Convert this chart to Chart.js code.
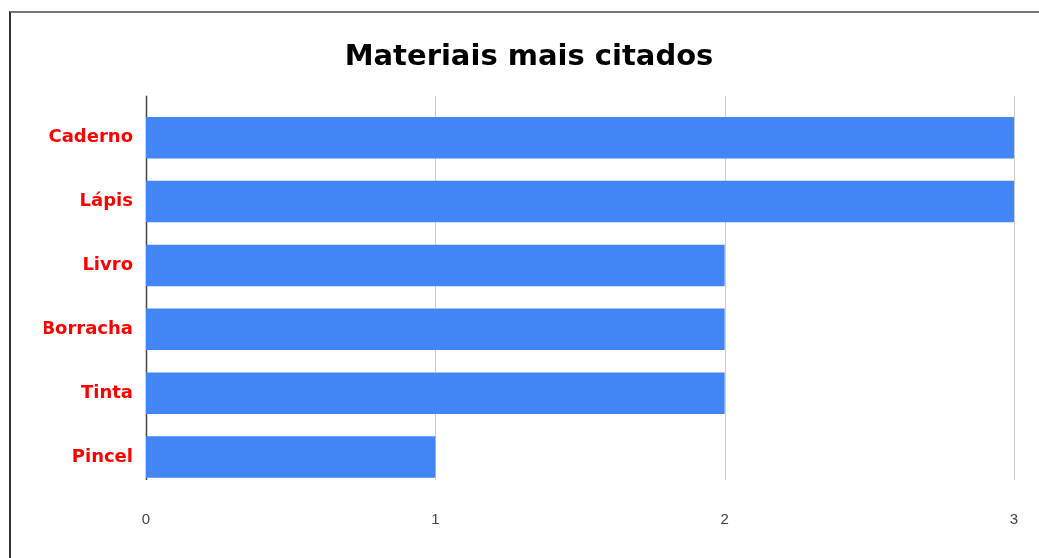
<!DOCTYPE html>
<html>
<head>
<meta charset="utf-8">
<script src="https://cdn.jsdelivr.net/npm/chart.js@4"></script>
<style>
  html, body { margin: 0; padding: 0; background: #fff; overflow: hidden; }
  #wrap { position: relative; width: 1039px; height: 558px; }
  #frame {
    position: absolute; left: 9px; top: 11px; width: 1100px; height: 600px;
    border-left: 2px solid #333; border-top: 2px solid #777;
    pointer-events: none;
  }
</style>
</head>
<body>
<div id="wrap">
  <canvas id="chart" width="1039" height="558"></canvas>
  <div id="frame"></div>
</div>
<script>
// --- Dados do gráfico ---
const materiais = ['Caderno', 'Lápis', 'Livro', 'Borracha', 'Tinta', 'Pincel'];
const citacoes = [3, 3, 2, 2, 2, 1];
const tituloGrafico = 'Materiais mais citados';

// Linhas de grade verticais (um pouco acima da área das barras, como no original)
const gradePlugin = {
    id: 'gradeVertical',
    beforeDatasetsDraw(chart) {
        const x = chart.scales.x;
        const area = chart.chartArea;
        const c = chart.ctx;
        const topo = area.top - 10;
        const base = area.bottom - 9;
        c.save();
        x.ticks.forEach(function(t) {
            const px = Math.round(x.getPixelForValue(t.value)) + 0.5;
            c.beginPath();
            c.strokeStyle = t.value === 0 ? '#444' : '#cccccc';
            c.lineWidth = t.value === 0 ? 1.5 : 1;
            c.moveTo(px, topo);
            c.lineTo(px, base);
            c.stroke();
        });
        c.restore();
    }
};

const ctx = document.getElementById('chart').getContext('2d');

new Chart(ctx, {
    type: 'bar',
    data: {
        labels: materiais,
        datasets: [{
            label: 'Citações',
            data: citacoes,
            backgroundColor: '#4285f4',
            borderWidth: 0,
            barPercentage: 0.65,
            categoryPercentage: 1
        }]
    },
    options: {
        indexAxis: 'y',
        responsive: false,
        animation: false,
        layout: {
            padding: { left: 44, right: 25, top: 0, bottom: 0 }
        },
        scales: {
            x: {
                min: 0,
                max: 3,
                afterFit: function(scale) {
                    scale.height = 69;
                    scale.paddingLeft = 0;
                    scale.paddingRight = 0;
                },
                ticks: {
                    stepSize: 1,
                    color: '#444',
                    padding: 22,
                    font: { family: 'Liberation Sans, Arial, sans-serif', size: 15 }
                },
                grid: { display: false, drawTicks: false },
                border: { display: false }
            },
            y: {
                afterFit: function(scale) { scale.width = 102; },
                ticks: {
                    color: '#ff0000',
                    padding: 13,
                    font: { family: 'DejaVu Sans, sans-serif', size: 18, weight: 'bold' }
                },
                grid: { display: false, drawTicks: false },
                border: { display: false }
            }
        },
        plugins: {
            legend: { display: false },
            tooltip: { enabled: false },
            title: {
                display: true,
                text: tituloGrafico,
                color: '#000',
                font: { family: 'DejaVu Sans, sans-serif', size: 29, weight: 'bold' },
                padding: { top: 40, bottom: 31 }
            }
        }
    },
    plugins: [gradePlugin]
});
</script>
</body>
</html>
